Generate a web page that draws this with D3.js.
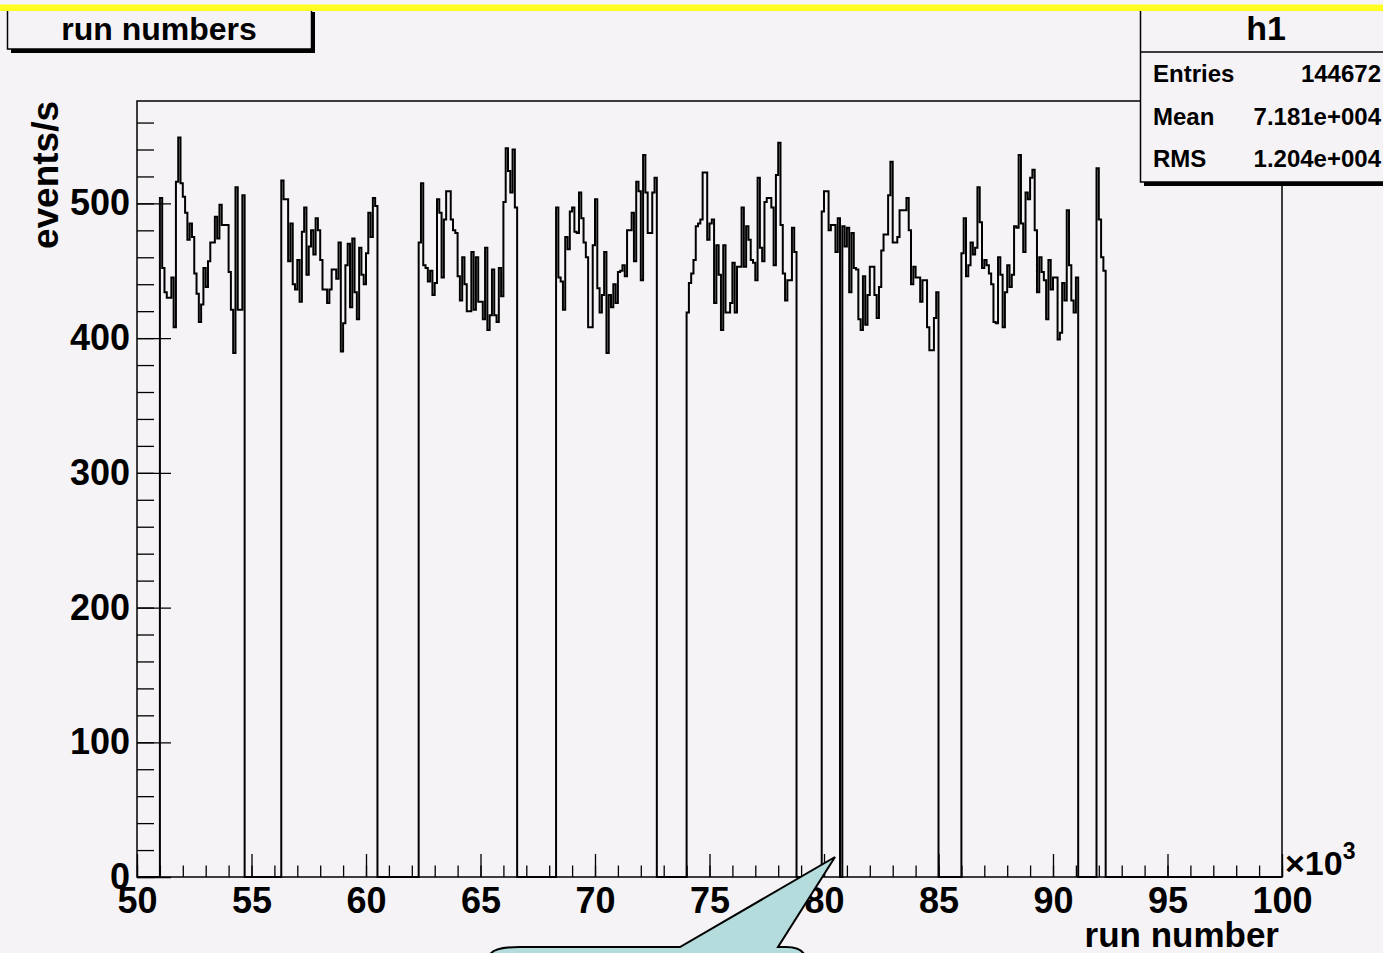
<!DOCTYPE html>
<html>
<head>
<meta charset="utf-8">
<script src="https://cdn.jsdelivr.net/npm/d3@7"></script>
<style>
html, body { margin: 0; padding: 0; background: #f6f3f6; overflow: hidden; }
svg { display: block; font-family: "Liberation Sans", Arial, sans-serif; font-weight: bold; }
</style>
</head>
<body>
<script>
const width = 1383;
const height = 953;

// histogram h1: 500 bins of 100 runs between 50000 and 100000
const binWidth = 100;
const xRange = [50000, 100000];

// first run number of each filled stretch of bins
const runStart = [51000, 56300, 62300, 68300, 74000, 79900, 80800, 86000, 91900];

// events/s per bin, one list per stretch
const rateA = [504, 452, 434, 430, 430, 445, 408, 516, 549, 515, 505, 493, 473, 485, 475, 448, 433, 412, 425, 452, 438, 457, 471, 471, 490, 474, 499, 484, 484, 484, 449, 421, 389, 512, 421, 421, 506];
const rateB = [517, 503, 503, 457, 485, 440, 436, 458, 427, 479, 497, 447, 468, 480, 462, 489, 480, 458, 436, 436, 426, 436, 451, 451, 444, 471, 390, 411, 454, 470, 423, 474, 434, 414, 467, 447, 440, 463, 493, 475, 504, 498];
const rateC = [471, 515, 454, 452, 442, 450, 432, 441, 503, 493, 445, 488, 509, 509, 488, 480, 478, 446, 428, 460, 440, 420, 420, 464, 421, 460, 427, 427, 414, 467, 406, 417, 451, 417, 412, 452, 431, 501, 541, 524, 508, 540, 497];
const rateD = [497, 445, 442, 421, 475, 466, 494, 497, 479, 478, 508, 489, 471, 460, 408, 408, 469, 503, 437, 419, 432, 464, 389, 432, 423, 440, 426, 449, 450, 454, 446, 480, 480, 493, 457, 516, 509, 443, 536, 508, 478, 478, 508, 519];
const rateE = [419, 441, 448, 458, 483, 485, 488, 523, 523, 473, 485, 488, 426, 469, 447, 406, 469, 419, 419, 426, 456, 419, 453, 453, 497, 453, 483, 473, 458, 456, 443, 519, 467, 457, 501, 504, 504, 497, 454, 521, 545, 484, 448, 428, 443, 443, 482, 464];
const rateF = [494, 509, 509, 480, 484, 484, 464, 489];
const rateG = [483, 468, 482, 434, 478, 452, 451, 414, 406, 446, 410, 432, 453, 453, 432, 415, 438, 465, 477, 477, 506, 531, 471, 471, 475, 495, 495, 495, 504, 480, 440, 453, 445, 445, 427, 443, 443, 408, 391, 391, 415, 434];
const rateH = [463, 489, 446, 454, 471, 462, 467, 512, 486, 452, 458, 454, 448, 440, 412, 411, 460, 447, 408, 434, 454, 438, 447, 483, 482, 536, 485, 464, 508, 503, 519, 525, 480, 434, 460, 449, 443, 414, 458, 436, 445, 445, 399, 404, 441, 428, 495, 454, 428, 419, 445];
const rateI = [526, 488, 460, 450];
const rates = [rateA, rateB, rateC, rateD, rateE, rateF, rateG, rateH, rateI];

// stats box
const statNames = ["Entries", "Mean", "RMS"];
const statValues = ["144672", "7.181e+004", "1.204e+004"];

const yMax = 576;
const bg = "#f6f3f6";

// fill the bins
const nBins = (xRange[1] - xRange[0]) / binWidth;
const bins = d3.range(nBins).map(i => ({lo: xRange[0] + i * binWidth, v: 0}));
runStart.forEach((r, k) => {
    const first = (r - xRange[0]) / binWidth;
    rates[k].forEach((v, j) => bins[first + j].v = v);
});

const x = d3.scaleLinear().domain(xRange).range([137, 1282]);
const y = d3.scaleLinear().domain([0, yMax]).range([877, 101]);

const svg = d3.select("body").append("svg")
    .attr("width", width)
    .attr("height", height);

svg.append("rect")
    .attr("width", width)
    .attr("height", height)
    .attr("fill", bg);

// frame
svg.append("rect")
    .attr("x", x(xRange[0]))
    .attr("y", y(yMax))
    .attr("width", x(xRange[1]) - x(xRange[0]))
    .attr("height", y(0) - y(yMax))
    .attr("fill", "none")
    .attr("stroke", "#000")
    .attr("stroke-width", 1.5);

// x axis, ticks pointing inside
const xMinor = svg.append("g")
    .attr("transform", `translate(0,${y(0)})`)
    .call(d3.axisBottom(x).tickValues(d3.range(50000, 100001, 1000)).tickSize(-11.5).tickFormat(""));
xMinor.select(".domain").remove();

const xAxis = svg.append("g")
    .attr("transform", `translate(0,${y(0)})`)
    .call(d3.axisBottom(x).tickValues(d3.range(50000, 100001, 5000)).tickSize(-23).tickPadding(10)
        .tickFormat(d => d / 1000));
xAxis.select(".domain").remove();
xAxis.selectAll("text").attr("font-size", 36).attr("fill", "#000");

// y axis
const yMinor = svg.append("g")
    .attr("transform", `translate(${x(xRange[0])},0)`)
    .call(d3.axisLeft(y).tickValues(d3.range(0, yMax, 20)).tickSize(-17).tickFormat(""));
yMinor.select(".domain").remove();

const yAxis = svg.append("g")
    .attr("transform", `translate(${x(xRange[0])},0)`)
    .call(d3.axisLeft(y).tickValues(d3.range(0, 501, 100)).tickSize(-34).tickPadding(7));
yAxis.select(".domain").remove();
yAxis.selectAll("text").attr("font-size", 36).attr("fill", "#000");

svg.selectAll(".tick line").attr("stroke", "#000").attr("stroke-width", 1.3);

// histogram outline
let path = `M${x(bins[0].lo)},${y(0)}`;
bins.forEach(b => {
    path += `L${x(b.lo)},${y(b.v)}L${x(b.lo + binWidth)},${y(b.v)}`;
});
path += `L${x(xRange[1])},${y(0)}`;

svg.append("path")
    .attr("d", path)
    .attr("fill", "none")
    .attr("stroke", "#000")
    .attr("stroke-width", 2)
    .attr("stroke-linejoin", "miter");

// axis titles
svg.append("text")
    .attr("transform", "translate(58,101) rotate(-90)")
    .attr("text-anchor", "end")
    .attr("font-size", 37)
    .text("events/s");

svg.append("text")
    .attr("x", 1279)
    .attr("y", 947)
    .attr("text-anchor", "end")
    .attr("font-size", 35)
    .text("run number");

const exp = svg.append("text")
    .attr("x", 1285)
    .attr("y", 875)
    .attr("font-size", 34);
exp.append("tspan").text("\u00d710");
exp.append("tspan").attr("dy", -16).attr("font-size", 23).text("3");

// stats box
svg.append("rect")
    .attr("x", 1144).attr("y", 181)
    .attr("width", 260).attr("height", 5)
    .attr("fill", "#000");
svg.append("rect")
    .attr("x", 1140.5).attr("y", 6)
    .attr("width", 260).attr("height", 176)
    .attr("fill", bg)
    .attr("stroke", "#000")
    .attr("stroke-width", 1.5);
svg.append("line")
    .attr("x1", 1140).attr("x2", width)
    .attr("y1", 52).attr("y2", 52)
    .attr("stroke", "#000").attr("stroke-width", 1.5);
svg.append("text")
    .attr("x", 1266).attr("y", 40)
    .attr("text-anchor", "middle")
    .attr("font-size", 34)
    .text("h1");

const stats = svg.append("g").selectAll("g")
    .data(statNames)
    .join("g")
    .attr("transform", (d, i) => `translate(0,${82 + i * 42.5})`);
stats.append("text")
    .attr("x", 1153)
    .attr("font-size", 24)
    .text(d => d);
stats.append("text")
    .attr("x", 1381)
    .attr("text-anchor", "end")
    .attr("font-size", 24)
    .text((d, i) => statValues[i]);

// title box
svg.append("rect")
    .attr("x", 11).attr("y", 12)
    .attr("width", 304).attr("height", 41)
    .attr("fill", "#000");
svg.append("rect")
    .attr("x", 7.5).attr("y", 6)
    .attr("width", 304).attr("height", 43)
    .attr("fill", bg)
    .attr("stroke", "#000")
    .attr("stroke-width", 1.5);
svg.append("text")
    .attr("x", 159).attr("y", 40)
    .attr("text-anchor", "middle")
    .attr("font-size", 32)
    .text("run numbers");

// yellow strip at the top
svg.append("rect")
    .attr("x", 0).attr("y", 4.5)
    .attr("width", width).attr("height", 6.5)
    .attr("fill", "#ffff22");

// callout bubble
svg.append("path")
    .attr("d", "M489,962L489,958Q489,947 520,947L680,947L835,857L778,947L786,947Q806,947 806,962Z")
    .attr("fill", "#b4dcdc")
    .attr("stroke", "#000")
    .attr("stroke-width", 2);
</script>
</body>
</html>
